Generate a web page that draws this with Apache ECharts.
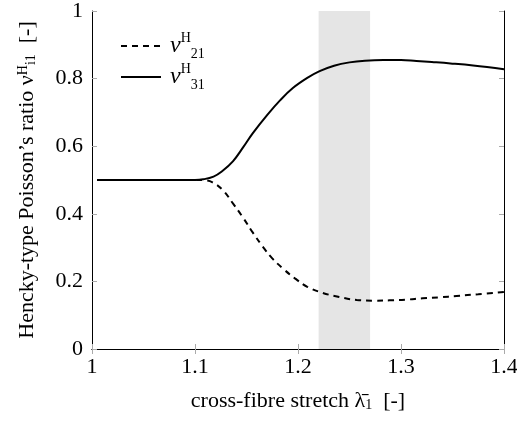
<!DOCTYPE html>
<html>
<head>
<meta charset="utf-8">
<script src="https://cdn.jsdelivr.net/npm/echarts@6/dist/echarts.min.js"></script>
<style>
  html, body { margin: 0; padding: 0; background: #fff; }
  #chart { width: 517px; height: 421px; }
</style>
</head>
<body>
<div id="chart"></div>
<script>
// stretch values (x) and ratios
var x31 = [1.005, 1.05, 1.10, 1.108, 1.118, 1.126, 1.137, 1.147, 1.156, 1.170, 1.183, 1.195, 1.209, 1.221, 1.235, 1.25, 1.265, 1.283, 1.3, 1.315, 1.33, 1.348, 1.37, 1.4];
var nu31 = [0.5, 0.5, 0.5, 0.502, 0.510, 0.525, 0.556, 0.598, 0.638, 0.692, 0.737, 0.772, 0.802, 0.822, 0.838, 0.848, 0.853, 0.855, 0.855, 0.852, 0.849, 0.845, 0.839, 0.828];

var x21 = [1.005, 1.05, 1.10, 1.11, 1.117, 1.127, 1.137, 1.147, 1.156, 1.166, 1.175, 1.185, 1.197, 1.209, 1.224, 1.24, 1.257, 1.275, 1.289, 1.305, 1.321, 1.338, 1.354, 1.375, 1.4];
var nu21 = [0.5, 0.5, 0.5, 0.499, 0.493, 0.470, 0.430, 0.387, 0.345, 0.302, 0.268, 0.239, 0.209, 0.184, 0.166, 0.154, 0.145, 0.143, 0.144, 0.146, 0.150, 0.153, 0.157, 0.162, 0.169];

var band = [1.22, 1.27];   // shaded range
var xTicks = [1, 1.1, 1.2, 1.3, 1.4];
var yTicks = [0, 0.2, 0.4, 0.6, 0.8, 1];

var names = ['nu21', 'nu31'];
var labels = { nu21: '{v|ν}{h|H}{s|21}', nu31: '{v|ν}{h|H}{s|31}' };

function pairs(xs, ys) {
    var out = [];
    for (var i = 0; i < xs.length; i++) out.push([xs[i], ys[i]]);
    return out;
}

var font = '"Liberation Serif", "DejaVu Serif", serif';
var tickGray = '#aaaaaa';

// sub / superscript pieces
var mathRich = {
    v: { fontFamily: font, fontStyle: 'italic', fontSize: 24, color: '#000', lineHeight: 30 },
    h: { fontFamily: font, fontSize: 14, color: '#000', verticalAlign: 'top', lineHeight: 30 },
    s: { fontFamily: font, fontSize: 14, color: '#000', verticalAlign: 'bottom', lineHeight: 30 },
    l: { fontFamily: font, fontSize: 22, color: '#000' },
    ss: { fontFamily: font, fontSize: 14, color: '#000', verticalAlign: 'bottom' },
    sh: { fontFamily: font, fontSize: 14, color: '#000', verticalAlign: 'top' }
};

var myChart = echarts.init(document.getElementById('chart'));

var xBase = {
    type: 'value',
    min: xTicks[0],
    max: xTicks[xTicks.length - 1],
    interval: 0.1,
    splitLine: { show: false },
    axisLine: { show: true, lineStyle: { color: '#000', width: 1 } },
    axisTick: { show: true, inside: true, length: 5, lineStyle: { color: tickGray } }
};
var yBase = {
    type: 'value',
    min: yTicks[0],
    max: yTicks[yTicks.length - 1],
    interval: 0.2,
    splitLine: { show: false },
    axisLine: { show: true, lineStyle: { color: '#000', width: 1 } },
    axisTick: { show: true, inside: true, length: 5, lineStyle: { color: tickGray } }
};

var option = {
    animation: false,
    backgroundColor: '#fff',
    textStyle: { fontFamily: font },
    grid: { left: 92, right: 13, top: 11, bottom: 72, show: false, outerBoundsMode: 'none', containLabel: false },
    legend: {
        orient: 'vertical',
        left: 115,
        top: 26,
        itemWidth: 40,
        itemHeight: 14,
        itemGap: 1,
        data: names,
        itemStyle: { opacity: 0 },
        formatter: function (n) { return labels[n]; },
        textStyle: { padding: [0, 0, 0, 4], rich: mathRich }
    },
    xAxis: [
        Object.assign({}, xBase, {
            position: 'bottom',
            name: 'cross-fibre stretch {l|λ̄}{ss|1}  [-]',
            nameLocation: 'middle',
            nameGap: 41,
            nameTextStyle: { fontFamily: font, fontSize: 22, color: '#000', rich: mathRich },
            axisLabel: {
                margin: 7, fontSize: 22, color: '#000', fontFamily: font,
                formatter: function (v) { return String(Math.round(v * 10) / 10); }
            }
        }),
        Object.assign({}, xBase, { position: 'top', axisLabel: { show: false } })
    ],
    yAxis: [
        Object.assign({}, yBase, {
            position: 'left',
            name: 'Hencky-type Poisson’s ratio {l|ν}{sh|H}{ss|i1}  [-]',
            nameLocation: 'middle',
            nameGap: 54,
            nameTextStyle: { fontFamily: font, fontSize: 22, color: '#000', rich: mathRich },
            axisLabel: {
                margin: 9, fontSize: 22, color: '#000', fontFamily: font,
                formatter: function (v) { return String(Math.round(v * 10) / 10); }
            }
        }),
        Object.assign({}, yBase, { position: 'right', axisLabel: { show: false } })
    ],
    series: [
        {
            name: names[0],
            type: 'line',
            data: pairs(x21, nu21),
            symbol: 'none',
            smooth: 0.4,
            color: '#000',
            lineStyle: { color: '#000', width: 2, type: [6, 5] },
            markArea: {
                silent: true,
                itemStyle: { color: '#e5e5e5' },
                data: [[{ xAxis: band[0] }, { xAxis: band[1] }]]
            },
            z: 3
        },
        {
            name: names[1],
            type: 'line',
            data: pairs(x31, nu31),
            symbol: 'none',
            smooth: 0.4,
            color: '#000',
            lineStyle: { color: '#000', width: 2, type: 'solid' },
            z: 3
        }
    ]
};

myChart.setOption(option);
</script>
</body>
</html>
